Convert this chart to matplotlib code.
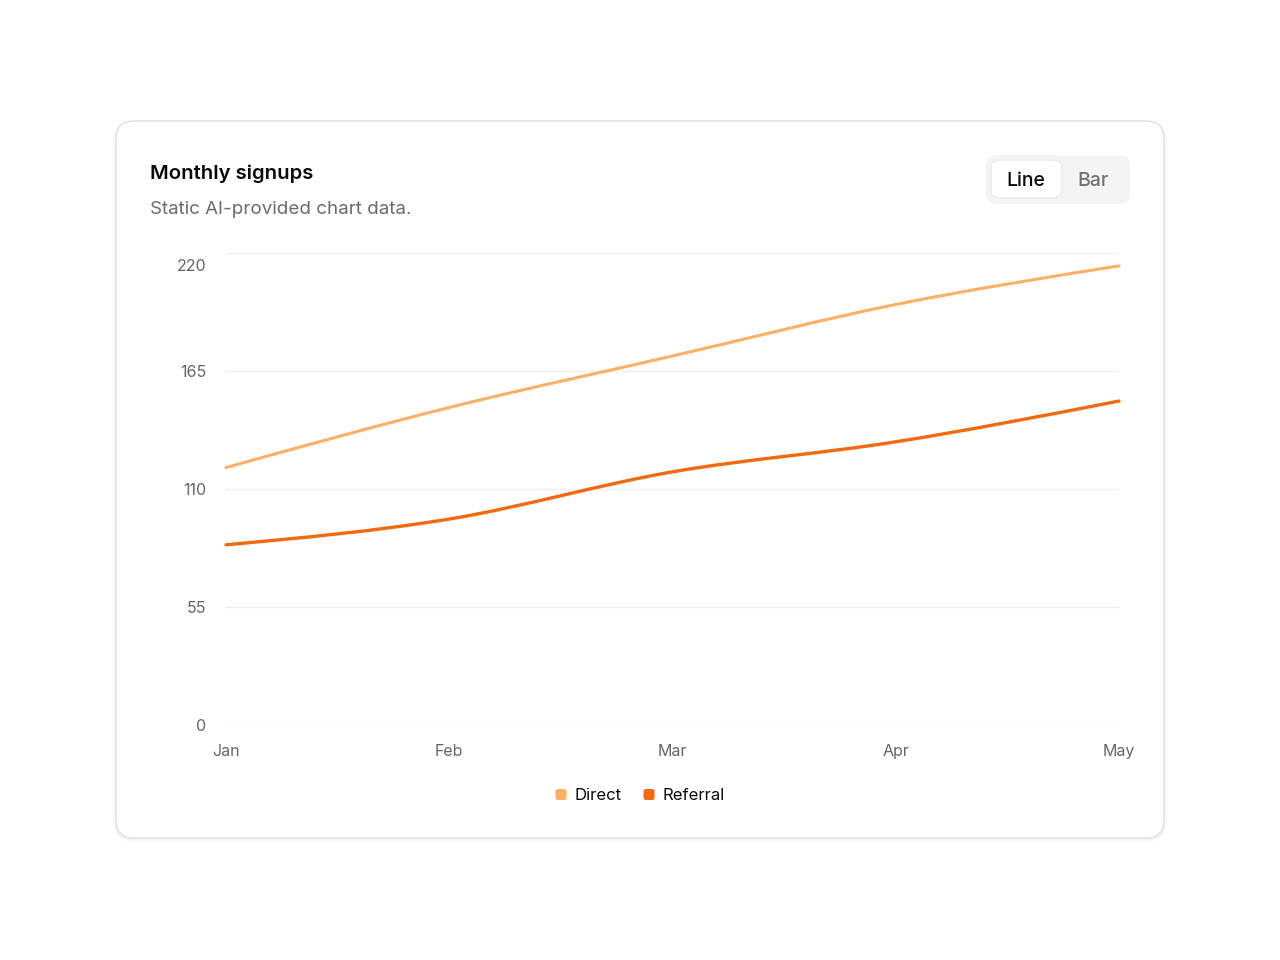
import numpy as np
import matplotlib.pyplot as plt
from matplotlib.patches import FancyBboxPatch
from matplotlib.path import Path
from matplotlib.patches import PathPatch
from matplotlib.transforms import ScaledTranslation

plt.rcParams['font.family'] = ['Inter', 'DejaVu Sans']

months = ['Jan', 'Feb', 'Mar', 'Apr', 'May']
direct = [120, 148, 172, 196, 214]
referral = [84, 96, 118, 132, 151]
y_ticks = [0, 55, 110, 165, 220]

DIRECT_COLOR = '#fbb065'
REFERRAL_COLOR = '#f26a0d'
W, H = 1280, 960


def monotone_path(xs, ys):
    """Bezier path like d3 curveMonotoneX, in data coordinates."""
    xs = np.asarray(xs, float)
    ys = np.asarray(ys, float)
    n = len(xs)
    h = np.diff(xs)
    s = np.diff(ys) / h
    t = np.zeros(n)
    for i in range(1, n - 1):
        p = (s[i - 1] * h[i] + s[i] * h[i - 1]) / (h[i - 1] + h[i])
        t[i] = (np.sign(s[i - 1]) + np.sign(s[i])) * min(abs(s[i - 1]), abs(s[i]), 0.5 * abs(p))
    t[0] = (3 * s[0] - t[1]) / 2
    t[-1] = (3 * s[-1] - t[-2]) / 2
    verts = [(xs[0], ys[0])]
    codes = [Path.MOVETO]
    for i in range(n - 1):
        dx = (xs[i + 1] - xs[i]) / 3
        verts += [(xs[i] + dx, ys[i] + dx * t[i]),
                  (xs[i + 1] - dx, ys[i + 1] - dx * t[i + 1]),
                  (xs[i + 1], ys[i + 1])]
        codes += [Path.CURVE4] * 3
    return Path(verts, codes)


fig = plt.figure(figsize=(12.8, 9.6), dpi=100)
fig.patch.set_facecolor('white')

# card with soft shadow
bg = fig.add_axes([0, 0, 1, 1])
bg.set_xlim(0, W)
bg.set_ylim(H, 0)
bg.axis('off')
for k, a in enumerate([0.025, 0.02, 0.015]):
    bg.add_patch(FancyBboxPatch((116 - k, 122 - k + 1), 1048 + 2 * k, 716 + 2 * k,
                                boxstyle='round,pad=0,rounding_size=18',
                                fc='none', ec='black', lw=1.5, alpha=a))
bg.add_patch(FancyBboxPatch((116, 121), 1048, 717, boxstyle='round,pad=0,rounding_size=18',
                            fc='white', ec='#e4e4e7', lw=1.2))

bg.text(150, 174, 'Monthly signups', fontsize=14.6, fontweight='semibold',
        color='#0a0a0a', ha='left', va='center')
bg.text(150, 209, 'Static AI-provided chart data.', fontsize=13.5,
        color='#6b6b6b', ha='left', va='center')

# Line / Bar toggle
bg.add_patch(FancyBboxPatch((986, 155), 144, 49, boxstyle='round,pad=0,rounding_size=11',
                            fc='#f4f4f5', ec='none'))
bg.add_patch(FancyBboxPatch((991, 160), 71, 38, boxstyle='round,pad=0,rounding_size=9',
                            fc='white', ec='#e8e8e8', lw=0.8))
bg.text(1026, 181, 'Line', fontsize=14, fontweight='medium', color='#0a0a0a',
        ha='center', va='center')
bg.text(1093, 181, 'Bar', fontsize=14, fontweight='medium', color='#737373',
        ha='center', va='center')

# chart area
ax = fig.add_axes([226 / W, 1 - 725 / H, (1119 - 226) / W, (725 - 253) / H])
ax.set_facecolor('none')
x = np.arange(len(months))
ax.set_xlim(x[0], x[-1])
ax.set_ylim(0, 220)
for series, color, lw in [(direct, DIRECT_COLOR, 2.2), (referral, REFERRAL_COLOR, 2.4)]:
    ax.add_patch(PathPatch(monotone_path(x, series), fc='none', ec=color, lw=lw,
                           capstyle='round', clip_on=False))

ax.set_yticks(y_ticks)
ax.set_xticks(x)
ax.set_xticklabels(months)
ax.grid(axis='y', color='#f0f0f0', lw=1)
ax.set_axisbelow(True)
for sp in ax.spines.values():
    sp.set_visible(False)
ax.tick_params(length=0, labelsize=11.5, labelcolor='#666666')
ax.tick_params(axis='y', pad=14)
ax.tick_params(axis='x', pad=14)
top = ax.get_yticklabels()[-1]
top.set_transform(top.get_transform() + ScaledTranslation(0, -12 / 100, fig.dpi_scale_trans))

# legend
for sx, label, color in [(561, 'Direct', DIRECT_COLOR), (649, 'Referral', REFERRAL_COLOR)]:
    bg.add_patch(FancyBboxPatch((sx - 5.5, 789), 11, 11, boxstyle='round,pad=0,rounding_size=2.5',
                                fc=color, ec='none'))
    bg.text(sx + 14, 795, label, fontsize=12, color='#0a0a0a', ha='left', va='center')

fig.savefig('out.png', dpi=100, facecolor='white')
